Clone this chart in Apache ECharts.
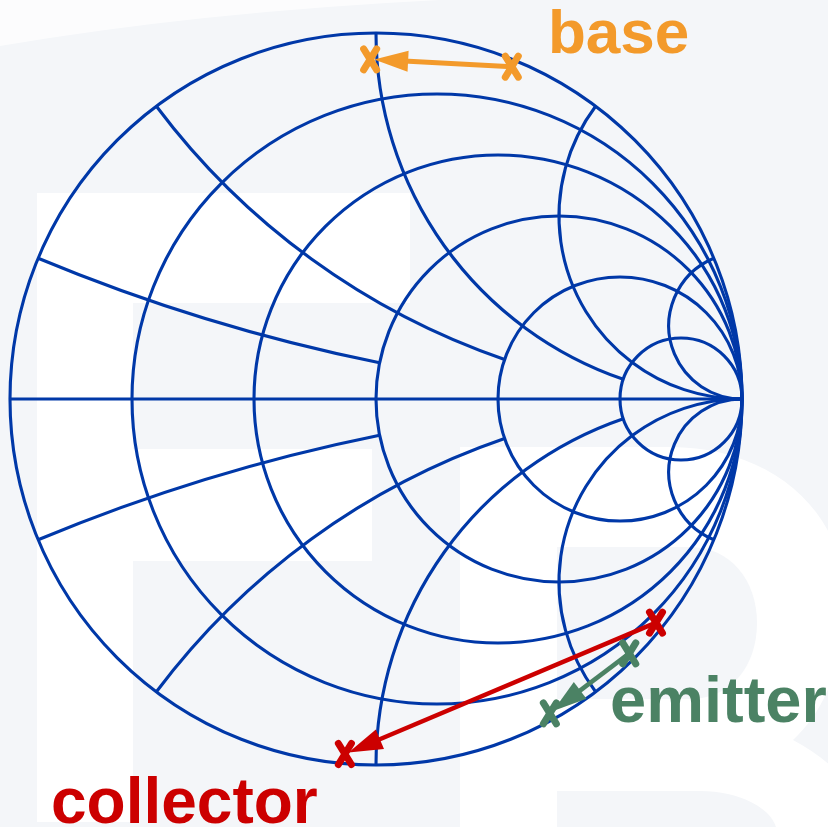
<!DOCTYPE html>
<html>
<head>
<meta charset="utf-8">
<script src="https://cdn.jsdelivr.net/npm/echarts@6/dist/echarts.min.js"></script>
<style>
html, body { margin: 0; padding: 0; background: #f4f6f9; }
#chart { width: 828px; height: 827px; }
</style>
</head>
<body>
<div id="chart"></div>
<script>
// normalised resistance circles (0 = outer rim)
var resistance = [0, 0.2, 0.5, 1, 2, 5];
// reactance arcs, and the resistance circle where each one stops
var reactance = [0, 0.2, 0.5, 1, 2, 5];
var reactanceStop = [Infinity, 1, 2, 5, Infinity, Infinity];

// reflection coefficient points, [from, to]
var basePts = [[0.371, 0.908], [-0.016, 0.928]];
var collectorPts = [[0.765, -0.611], [-0.085, -0.970]];
var emitterPts = [[0.692, -0.695], [0.475, -0.859]];
var names = ['base', 'collector', 'emitter'];
var colors = ['#f39a2b', '#cc0000', '#4b8264'];

var BG = '#f4f6f9';
var BLUE = '#0038a8';
var GRID_W = 3.1;

// z = r + jx  ->  reflection coefficient
function gamma(r, x) {
  if (!isFinite(r)) return [1, 0];
  var d = (r + 1) * (r + 1) + x * x;
  return [(r * r - 1 + x * x) / d, 2 * x / d];
}

// both signs of every reactance arc
var arcX = [], arcStop = [];
reactance.forEach(function (x, i) {
  arcX.push([x, 0]); arcStop.push(reactanceStop[i]);
  if (x !== 0) { arcX.push([-x, 0]); arcStop.push(reactanceStop[i]); }
});

var pathData = [basePts, collectorPts, emitterPts].map(function (p) {
  return [p[0][0], p[0][1], p[1][0], p[1][1]];
});

var lineStyle = { fill: 'none', stroke: BLUE, lineWidth: GRID_W };

function renderR(params, api) {
  var r = api.value(0);
  var c = api.coord([r / (1 + r), 0]);
  var e = api.coord([1, 0]);
  return { type: 'circle', shape: { cx: c[0], cy: c[1], r: e[0] - c[0] }, style: lineStyle };
}

function renderX(params, api) {
  var x = api.value(0);
  var stop = arcStop[params.dataIndex];
  var p0 = api.coord(gamma(0, x));
  var p1 = api.coord(gamma(stop, x));
  if (x === 0) {
    return { type: 'line', shape: { x1: p0[0], y1: p0[1], x2: p1[0], y2: p1[1] }, style: lineStyle };
  }
  var c = api.coord([1, 1 / x]);
  var rad = Math.abs(api.coord([1, 0])[1] - c[1]);
  var a0 = Math.atan2(p0[1] - c[1], p0[0] - c[0]);
  var a1 = Math.atan2(p1[1] - c[1], p1[0] - c[0]);
  var d = a1 - a0;
  while (d > Math.PI) d -= 2 * Math.PI;
  while (d < -Math.PI) d += 2 * Math.PI;
  return {
    type: 'arc',
    shape: { cx: c[0], cy: c[1], r: rad, startAngle: a0, endAngle: a0 + d, clockwise: d > 0 },
    style: lineStyle
  };
}

function cross(p, color) {
  var st = { stroke: color, lineWidth: 7, lineCap: 'round' };
  return [
    { type: 'line', shape: { x1: p[0] - 6.5, y1: p[1] - 10.5, x2: p[0] + 6.5, y2: p[1] + 10.5 }, style: st },
    { type: 'line', shape: { x1: p[0] + 6.5, y1: p[1] - 10.5, x2: p[0] - 6.5, y2: p[1] + 10.5 }, style: st }
  ];
}

function renderPath(params, api) {
  var color = colors[params.dataIndex];
  var a = api.coord([api.value(0), api.value(1)]);
  var b = api.coord([api.value(2), api.value(3)]);
  var dx = b[0] - a[0], dy = b[1] - a[1];
  var len = Math.sqrt(dx * dx + dy * dy);
  var ux = dx / len, uy = dy / len, nx = -uy, ny = ux;
  var tip = [b[0] - ux * 4, b[1] - uy * 4];
  var base = [tip[0] - ux * 34, tip[1] - uy * 34];
  var hw = 10.5;
  var kids = [
    { type: 'line', shape: { x1: a[0], y1: a[1], x2: base[0] + ux * 4, y2: base[1] + uy * 4 },
      style: { stroke: color, lineWidth: params.dataIndex === 0 ? 5 : 4.5 } },
    { type: 'polygon', shape: { points: [tip, [base[0] + nx * hw, base[1] + ny * hw], [base[0] - nx * hw, base[1] - ny * hw]] },
      style: { fill: color } }
  ];
  return { type: 'group', children: kids.concat(cross(a, color), cross(b, color)) };
}

// faint "F B" watermark behind the chart, in page pixels
function renderWatermark() {
  var w = { fill: '#ffffff' };
  return {
    type: 'group',
    children: [
      { type: 'path', shape: { pathData: 'M0,0 L440,0 Q200,12 0,46 Z' }, style: { fill: '#ffffff', opacity: 0.7 } },
      { type: 'rect', shape: { x: 37, y: 193, width: 96, height: 629 }, style: w },
      { type: 'rect', shape: { x: 37, y: 193, width: 373, height: 110 }, style: w },
      { type: 'rect', shape: { x: 37, y: 449, width: 335, height: 112 }, style: w },
      { type: 'path', shape: { pathData: 'M460,447 L670,447 C770,447 845,510 845,600 C845,670 820,715 793,740 C840,765 865,800 870,827 L460,827 Z' }, style: w },
      { type: 'path', shape: { pathData: 'M557,547 L690,547 C730,547 757,580 757,623 C757,667 730,699 690,699 L557,699 Z' }, style: { fill: BG } },
      { type: 'path', shape: { pathData: 'M557,791 L700,791 C740,791 770,808 776,827 L557,827 Z' }, style: { fill: BG } }
    ]
  };
}

var chart = echarts.init(document.getElementById('chart'));

var option = {
  backgroundColor: BG,
  animation: false,
  grid: { left: 10, top: 33, width: 732, height: 732 },
  xAxis: { type: 'value', min: -1, max: 1, show: false },
  yAxis: { type: 'value', min: -1, max: 1, show: false },
  graphic: [
    { type: 'text', z: 100, x: 548, y: 36, style: { text: names[0], fill: colors[0], font: 'bold 62px "Liberation Sans", Arial, sans-serif', verticalAlign: 'middle' } },
    { type: 'text', z: 100, x: 51, y: 805, style: { text: names[1], fill: colors[1], font: 'bold 64px "Liberation Sans", Arial, sans-serif', verticalAlign: 'middle' } },
    { type: 'text', z: 100, x: 610, y: 704, style: { text: names[2], fill: colors[2], font: 'bold 65px "Liberation Sans", Arial, sans-serif', verticalAlign: 'middle' } }
  ],
  series: [
    { type: 'custom', name: 'watermark', z: 1, clip: false, silent: true,
      data: [[0, 0]], renderItem: renderWatermark },
    { type: 'custom', name: 'resistance', z: 10, clip: false, silent: true,
      data: resistance.map(function (r) { return [r, 0]; }), renderItem: renderR },
    { type: 'custom', name: 'reactance', z: 10, clip: false, silent: true,
      data: arcX, renderItem: renderX },
    { type: 'custom', name: 'paths', z: 20, clip: false, silent: true,
      encode: { x: [0, 2], y: [1, 3] },
      data: pathData, renderItem: renderPath }
  ]
};

chart.setOption(option);
</script>
</body>
</html>
